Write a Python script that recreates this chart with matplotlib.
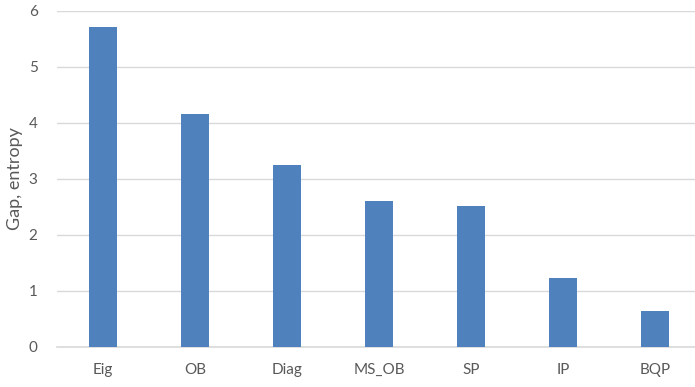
import matplotlib.pyplot as plt
import numpy as np

methods = ['Eig', 'OB', 'Diag', 'MS_OB', 'SP', 'IP', 'BQP']
gap_entropy = [5.71, 4.16, 3.25, 2.60, 2.51, 1.23, 0.64]

plt.rcParams['font.family'] = ['Lato', 'DejaVu Sans']

fig = plt.figure(figsize=(6.95, 3.87), dpi=100)
# axes run a little past the right edge of the figure
ax = fig.add_axes([57 / 695, 40.3 / 387, 644 / 695, 335.7 / 387])

x = np.arange(len(methods))
ax.bar(x, gap_entropy, width=0.315, color='#4F81BD', zorder=3)

ax.set_xlim(-0.5, len(methods) - 0.5)
ax.set_ylim(0, 6)
ax.set_yticks(range(7))
ax.set_xticks(x)
ax.set_xticklabels(methods)

ax.grid(axis='y', color='#D9D9D9', linewidth=1.0, zorder=0)
for s in ['top', 'right', 'left']:
    ax.spines[s].set_visible(False)
ax.spines['bottom'].set_color('#D9D9D9')
ax.spines['bottom'].set_linewidth(1.2)

ax.tick_params(axis='both', length=0, labelsize=11, colors='#595959')
ax.tick_params(axis='x', pad=12)
ax.tick_params(axis='y', pad=14)
ax.set_ylabel('Gap, entropy', fontsize=13, color='#595959')
ax.yaxis.set_label_coords(-0.053, 0.5)

fig.savefig('out.png', dpi=100)
